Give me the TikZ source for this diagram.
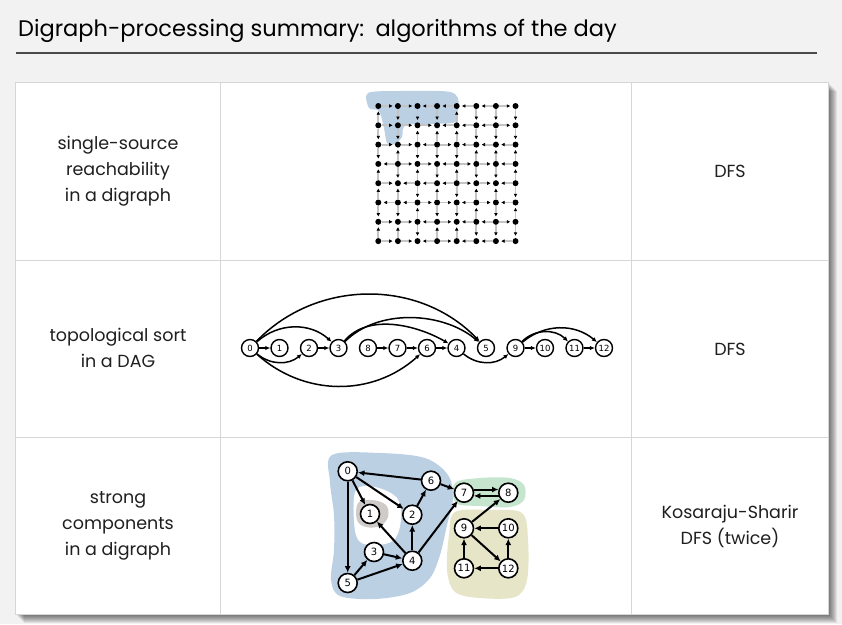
\documentclass[tikz,border=0pt]{standalone}
\usepackage{fontspec}
\setmainfont{Poppins}
\newfontfamily\nodefont{DejaVu Sans}
\usetikzlibrary{arrows.meta}

\definecolor{pagebg}{HTML}{F2F2F2}
\definecolor{rulegray}{HTML}{4A4A4A}
\definecolor{cellline}{HTML}{D6D6D6}
\definecolor{gridedge}{HTML}{C4C4C4}
\definecolor{sccblue}{HTML}{BCD0E4}
\definecolor{sccgreen}{HTML}{C6E5CF}
\definecolor{scctan}{HTML}{E7E5C8}
\definecolor{sccgray}{HTML}{CFCBC8}

% edge directions of the grid digraph: 1 = right/down, 0 = left/up
\def\hdir{{1,1,0,0,0,0,1, 1,1,1,0,0,0,1, 1,1,0,1,0,0,0, 0,1,1,0,1,1,0,
           1,0,0,0,1,1,0, 0,0,1,1,0,1,0, 1,1,0,1,0,0,1, 1,1,0,1,0,0,0}}
\def\vdir{{0,1,1,0,0,1,0, 1,1,0,1,0,1,0, 1,0,1,0,1,0,1, 1,0,1,1,0,1,0,
           0,0,1,0,1,1,0, 1,1,0,1,0,0,1, 1,1,0,1,0,1,1, 1,1,0,0,1,0,1}}

\begin{document}
\begin{tikzpicture}[x=1pt,y=-1pt,
  every node/.style={inner sep=0pt},
  celltext/.style={align=center, font=\fontsize{17.5}{26}\selectfont, text=black!88},
  gdot/.style={circle, fill=black, minimum size=6pt, inner sep=0pt},
  gedge/.style={draw=gridedge, line width=1.8pt, -{Latex[length=3.5pt,width=3.8pt,color=black]}, shorten >=2pt},
  tnode/.style={circle, draw, line width=1.4pt, minimum size=17pt, inner sep=0pt, fill=white, font=\nodefont\fontsize{8.5}{8.5}\selectfont},
  tedge/.style={line width=1.5pt, -{Latex[length=5pt,width=4.5pt]}},
  snode/.style={circle, draw, line width=1.6pt, minimum size=19pt, inner sep=0pt, fill=white, font=\nodefont\fontsize{10}{10}\selectfont},
  sedge/.style={line width=2pt, -{Latex[length=6.5pt,width=6pt]}}
]
% page
\fill[pagebg] (0,0) rectangle (842,624);
\useasboundingbox (0,0) rectangle (842,624);

% title and rule
\node[anchor=base west, font=\fontsize{22.5}{26}\selectfont] (title) at (18,36)
  {Digraph-processing summary:\enspace algorithms of the day};
\draw[rulegray, line width=1.2pt] (16,53) -- (817,53);

% table with its shadow
\foreach \k in {1,...,9}
  \fill[black, opacity=0.075] (15+\k,82+\k) rectangle (828+\k,614+\k);
\fill[white, draw=cellline] (15,82) rectangle (828,614);
\draw[cellline, line width=0.8pt] (220,82) -- (220,614) (631,82) -- (631,614)
  (15,260) -- (828,260) (15,437) -- (828,437);

% cell texts
\node[celltext] (r1a) at (118,171) {single-source\\reachability\\in a digraph};
\node[celltext] (r1c) at (730,171) {DFS};
\node[celltext] (r2a) at (118,348) {topological sort\\in a DAG};
\node[celltext] (r2c) at (730,349) {DFS};
\node[celltext] (r3a) at (118,526) {strong\\components\\in a digraph};
\node[celltext] (r3c) at (730,526) {Kosaraju-Sharir\\DFS (twice)};

% ---- reachability on a grid digraph ----
\fill[sccblue] plot[smooth cycle, tension=0.5] coordinates {
  (368,93) (400,91) (447,91.5) (458,98) (457,115) (452,123) (407,125)
  (402,137) (395,144) (387,143) (384,128) (379,111) (369,108)};
\foreach \c in {0,...,7} \foreach \r in {0,...,7}
  \node[gdot] (g\c-\r) at ({378.3+19.6*\c},{106+19.3*\r}) {};
\foreach \r in {0,...,7} \foreach \c in {0,...,6} {
  \pgfmathtruncatemacro\cn{\c+1}
  \pgfmathtruncatemacro\d{\hdir[7*\r+\c]}
  \ifnum\d=1 \draw[gedge] (g\c-\r) -- (g\cn-\r); \else \draw[gedge] (g\cn-\r) -- (g\c-\r); \fi
}
\foreach \c in {0,...,7} \foreach \r in {0,...,6} {
  \pgfmathtruncatemacro\rn{\r+1}
  \pgfmathtruncatemacro\d{\vdir[7*\c+\r]}
  \ifnum\d=1 \draw[gedge] (g\c-\r) -- (g\c-\rn); \else \draw[gedge] (g\c-\rn) -- (g\c-\r); \fi
}

% ---- topological order of a DAG ----
\foreach \n/\x in {0/250,1/279.5,2/309,3/338.5,8/368,7/397.5,6/427,4/456.5,5/486,
                   9/515.5,10/545,11/574.5,12/604}
  \node[tnode] (t\n) at (\x,348) {\n};
\draw[tedge] (t0) -- (t1);
\draw[tedge] (t0) to[bend right=40] (t2);
\draw[tedge] (t0) to[bend left=42] (t3);
\draw[tedge] (t0) to[bend left=46] (t5);
\draw[tedge] (t0) to[bend right=42] (t6);
\draw[tedge] (t2) -- (t3);
\draw[tedge] (t3) to[out=50, in=150, looseness=0.9] (t4);
\draw[tedge] (t3) to[out=45, in=140, looseness=0.9] (t5);
\draw[tedge] (t8) -- (t7);
\draw[tedge] (t7) -- (t6);
\draw[tedge] (t6) -- (t4);
\draw[tedge] (t4) to[bend right=40] (t9);
\draw[tedge] (t9) -- (t10);
\draw[tedge] (t9) to[bend left=45] (t11);
\draw[tedge] (t9) to[bend left=40] (t12);
\draw[tedge] (t11) -- (t12);

% ---- strong components ----
\fill[sccblue] plot[smooth cycle, tension=0.55] coordinates {
  (332,455) (380,453) (425,458) (448,475) (453,498) (447,525) (440,555)
  (430,578) (410,593) (375,599) (340,596) (331,580) (334,550) (334,515) (330,482)};
\fill[white] plot[smooth cycle, tension=0.6] coordinates {
  (356,490) (375,487) (397,498) (401,519) (394,540) (375,545) (359,541) (354,521)};
\fill[sccgray] plot[smooth cycle, tension=0.6] coordinates {
  (358,503) (372,500) (386,505) (388,517) (380,526) (366,527) (357,520)};
\fill[sccgreen] plot[smooth cycle, tension=0.55] coordinates {
  (455,483) (480,478) (510,478) (524,485) (524,500) (510,507) (480,506) (456,503)};
\fill[scctan] plot[smooth cycle, tension=0.55] coordinates {
  (455,512) (490,510) (522,513) (528,540) (527,580) (515,597) (480,598)
  (455,592) (447,570) (449,535)};

\node[snode] (s0) at (347.7,471.3) {0};
\node[snode] (s1) at (370,514) {1};
\node[snode] (s2) at (412.3,514.7) {2};
\node[snode] (s3) at (374,552) {3};
\node[snode] (s4) at (412.3,560.7) {4};
\node[snode] (s5) at (347.7,583) {5};
\node[snode] (s6) at (431,480.7) {6};
\node[snode] (s7) at (464,492.7) {7};
\node[snode] (s8) at (508.3,492.7) {8};
\node[snode] (s9) at (464,528.3) {9};
\node[snode] (s10) at (508.3,528.3) {10};
\node[snode] (s11) at (464,568.3) {11};
\node[snode] (s12) at (508.3,568.3) {12};

\draw[sedge] (s6) -- (s0);
\draw[sedge] (s0) -- (s1);
\draw[sedge] (s0) -- (s2);
\draw[sedge] (s0) -- (s5);
\draw[sedge] (s2) -- (s6);
\draw[sedge] (s6) -- (s7);
\draw[sedge] (s7.18) -- (s8.162);
\draw[sedge] (s8.198) -- (s7.-18);
\draw[sedge] (s4) -- (s1);
\draw[sedge] (s4) -- (s2);
\draw[sedge] (s4) -- (s7);
\draw[sedge] (s3) -- (s4);
\draw[sedge] (s5) -- (s3);
\draw[sedge] (s5) -- (s4);
\draw[sedge] (s9) -- (s8);
\draw[sedge] (s10) -- (s9);
\draw[sedge] (s9) -- (s12);
\draw[sedge] (s12) -- (s10);
\draw[sedge] (s12) -- (s11);
\draw[sedge] (s11) -- (s9);
\end{tikzpicture}
\end{document}
